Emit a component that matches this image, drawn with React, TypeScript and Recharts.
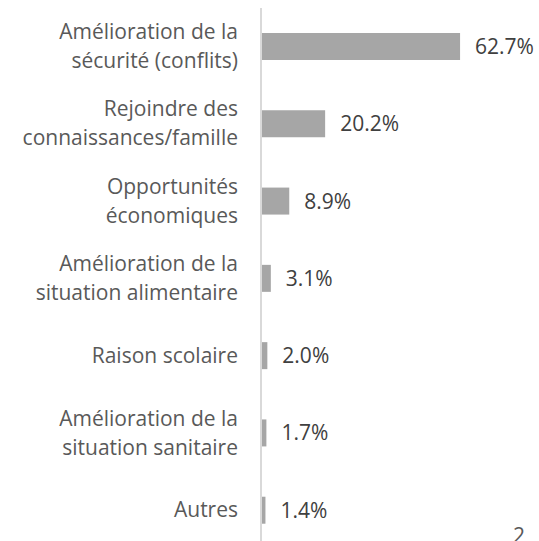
import React from 'react';
import { BarChart, Bar, XAxis, YAxis, LabelList } from 'recharts';

// categories (each split into the lines shown on the axis)
const categories = [
  ['Amélioration de la', 'sécurité (conflits)'],
  ['Rejoindre des', 'connaissances/famille'],
  ['Opportunités', 'économiques'],
  ['Amélioration de la', 'situation alimentaire'],
  ['Raison scolaire'],
  ['Amélioration de la', 'situation sanitaire'],
  ['Autres'],
];
const values = [62.7, 20.2, 8.9, 3.1, 2.0, 1.7, 1.4];

const data = categories.map((lines, i) => ({ name: lines.join(' '), lines, value: values[i] }));

const FONT = '"Open Sans", sans-serif';
const FONT_SIZE = 21;
const LINE_H = 29;

const CategoryTick = (props: any) => {
  const { x, y, index } = props;
  const lines: string[] = data[index].lines;
  const start = -((lines.length - 1) * LINE_H) / 2;
  return (
    <text x={x} y={y} textAnchor="end" fill="#595959" fontSize={FONT_SIZE} fontFamily={FONT}>
      {lines.map((l, i) => (
        <tspan key={i} x={x} dy={i === 0 ? start + 7 : LINE_H}>
          {l}
        </tspan>
      ))}
    </text>
  );
};

export default function App() {
  return (
    <div style={{ position: 'absolute', left: 0, top: 0, width: 539, height: 541, overflow: 'hidden', background: '#fff' }}>
      <BarChart
        width={539}
        height={560}
        data={data}
        layout="vertical"
        margin={{ top: 8, right: 24, bottom: 11, left: 0 }}
        barSize={27}
      >
        <XAxis type="number" domain={[0, 80]} hide />
        <YAxis
          type="category"
          dataKey="name"
          width={261}
          axisLine={{ stroke: '#d9d9d9', strokeWidth: 2 }}
          tickLine={false}
          tickSize={0}
          tickMargin={23}
          tick={<CategoryTick />}
          interval={0}
        />
        <Bar dataKey="value" fill="#a6a6a6" isAnimationActive={false}>
          <LabelList
            dataKey="value"
            position="right"
            offset={15}
            formatter={(v: any) => `${Number(v).toFixed(1)}%`}
            fill="#404040"
            fontSize={FONT_SIZE}
            fontFamily={FONT}
          />
        </Bar>
      </BarChart>
      <div style={{ position: 'absolute', left: 513, top: 521, fontFamily: FONT, fontSize: FONT_SIZE, color: '#595959' }}>2</div>
    </div>
  );
}
